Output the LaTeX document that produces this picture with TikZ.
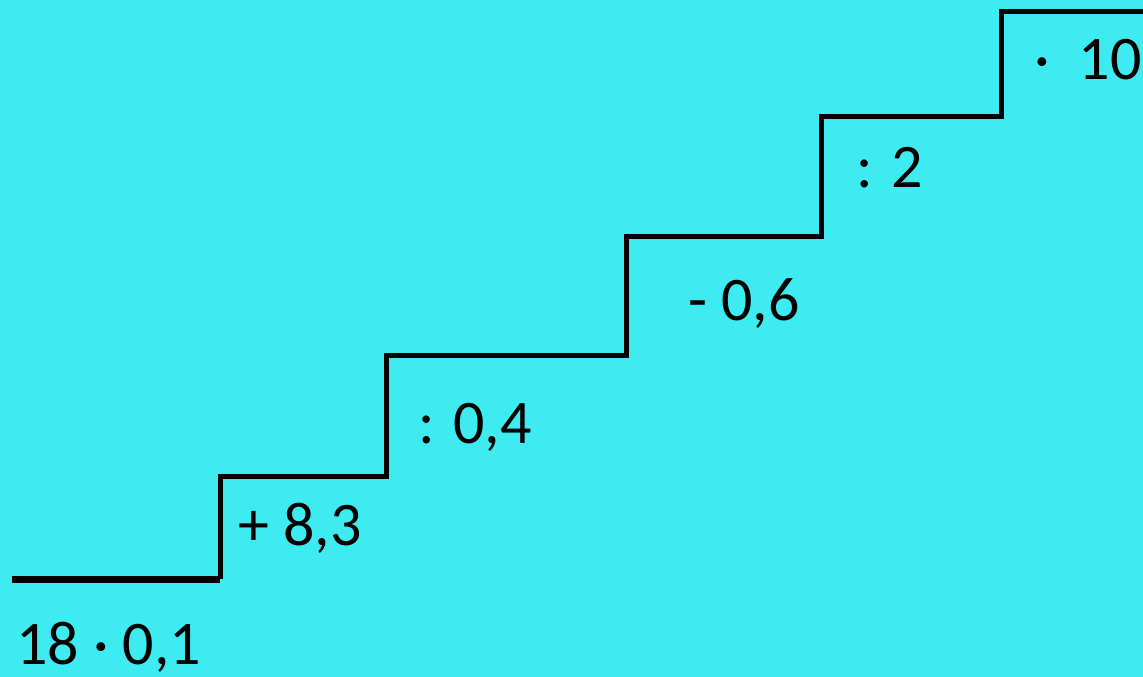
\documentclass[tikz,border=0pt]{standalone}
\usepackage{fontspec}
\setmainfont{Carlito}
\definecolor{bgcyan}{RGB}{62,235,240}
\definecolor{shadowcyan}{RGB}{40,175,180}
\begin{document}
\begin{tikzpicture}[x=1pt,y=-1pt,
  lbl/.style={anchor=base west,inner sep=0pt,font=\fontsize{62}{70}\selectfont},
  stair/.style={line width=5pt,line join=miter,black},
  shadow/.style={line width=5pt,line join=miter,shadowcyan,opacity=0.6}]
\fill[bgcyan] (0,0) rectangle (1143,677);
\useasboundingbox (0,0) rectangle (1143,677);
\coordinate (s0) at (12,579);
\coordinate (s1) at (220,579);
\coordinate (s2) at (220,476);
\coordinate (s3) at (386,476);
\coordinate (s4) at (386,355);
\coordinate (s5) at (626,355);
\coordinate (s6) at (626,236);
\coordinate (s7) at (821,236);
\coordinate (s8) at (821,116);
\coordinate (s9) at (1001,116);
\coordinate (s10) at (1001,12);
\coordinate (s11) at (1150,12);
\begin{scope}[shift={(2.5,2.5)}]
\draw[shadow,line width=7pt] (s0) -- (s1);
\draw[shadow] (s1) -- (s2) -- (s3) -- (s4) -- (s5) -- (s6) -- (s7) -- (s8) -- (s9) -- (s10) -- (s11);
\end{scope}
\draw[stair,line width=7pt] (s0) -- (s1);
\draw[stair] (s1) -- (s2) -- (s3) -- (s4) -- (s5) -- (s6) -- (s7) -- (s8) -- (s9) -- (s10) -- (s11);
\node[lbl] (t0) at (16,664) {18 · 0,1};
\node[lbl] (t1) at (238,545) {+ 8,3};
\node[lbl] (t2) at (418,443) {: 0,4};
\node[lbl] (t3) at (688,320) {- 0,6};
\node[lbl] (t4) at (856,187) {: 2};
\node[lbl] (t5) at (1034,80) {·\hspace{29pt}10};
\end{tikzpicture}
\end{document}
